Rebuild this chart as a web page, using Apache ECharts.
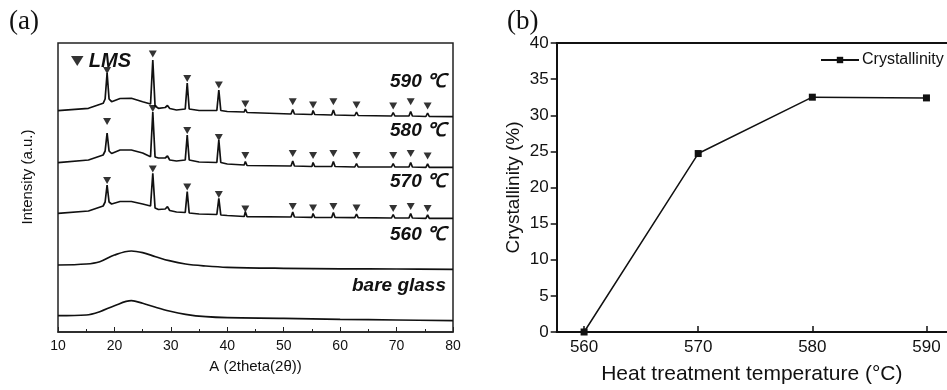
<!DOCTYPE html>
<html>
<head>
<meta charset="utf-8">
<script src="https://cdn.jsdelivr.net/npm/echarts@6/dist/echarts.min.js"></script>
<style>
  html, body { margin: 0; padding: 0; background: #fff; }
  #chart { width: 947px; height: 390px; }
</style>
</head>
<body>
<div id="chart"></div>
<script>
// (a) XRD patterns, [2theta, intensity a.u.]
const xrd590 = [[10,221.3],[15.4,223.7],[18,228.7],[18.35,233],[18.7,259],[19.05,233],[19.5,230.3],[21,233.5],[23,233.7],[25,230.3],[26.4,228],[26.8,272],[27.2,226],[27.8,223.7],[29,224.5],[29.4,226.5],[29.8,223.5],[31,222],[32.55,223],[32.9,249],[33.25,223],[35,221.5],[38.15,221.5],[38.5,242],[38.85,221.5],[40,220.5],[43,220],[43.2,223],[43.5,219.5],[51.3,218],[51.6,222.5],[51.9,218],[55,217.5],[55.2,221.5],[55.5,217.5],[58.5,217],[58.8,222],[59.1,217],[62.6,216.5],[62.9,220],[63.2,216.5],[69.1,216],[69.4,219.5],[69.7,216],[72.2,216],[72.5,220.5],[72.8,216],[75.2,215.5],[75.5,219],[75.8,215.5],[80,215.3]];
const xrd580 = [[10,169.3],[15.4,172],[18,177],[18.35,181],[18.7,199],[19.05,181],[19.5,178.5],[21,182],[23,182],[25,179],[26.4,175.3],[26.8,220],[27.2,175],[27.8,174],[29,174],[29.4,176],[29.8,172],[31,171],[32.55,172],[32.9,197],[33.25,172],[35,170],[38.15,169.5],[38.5,192],[38.85,169.5],[40,168],[43,167],[43.2,170.5],[43.5,166.5],[51.3,166],[51.6,171],[51.9,166],[55,165.5],[55.2,169.5],[55.5,165.5],[58.5,165.5],[58.8,170.5],[59.1,165.5],[62.6,165],[62.9,168.5],[63.2,165],[69.1,165],[69.4,168.5],[69.7,165],[72.2,165],[72.5,169.5],[72.8,165],[75.2,164.7],[75.5,168],[75.8,164.7],[80,164.7]];
const xrd570 = [[10,118.7],[15.4,121],[18,126],[18.35,130],[18.7,147],[19.05,130],[19.5,128],[21,130.5],[23,130.5],[25,128],[26.4,126],[26.8,158.7],[27.2,124],[27.8,122.5],[29,123],[29.4,125.3],[29.8,121.5],[31,120],[32.55,119.5],[32.9,140.3],[33.25,119],[35,118],[38.15,117.5],[38.5,133.7],[38.85,117],[40,116.5],[43,115.5],[43.2,120.3],[43.5,115.3],[51.3,115],[51.6,120],[51.9,115],[55,114.7],[55.2,118.5],[55.5,114.7],[58.5,114.5],[58.8,119.5],[59.1,114.5],[62.6,114.3],[62.9,118],[63.2,114.3],[69.1,114],[69.4,117.5],[69.7,114],[72.2,114],[72.5,118.5],[72.8,114],[75.2,113.7],[75.5,117],[75.8,113.7],[80,113.7]];
const xrd560 = [[10,67],[15,68],[17.4,70.3],[20,77],[23,81],[25,79.3],[27.3,75.3],[29.7,71.3],[32.6,68],[36.2,66],[40,64.7],[50,63.7],[60,63.2],[70,63],[80,62.7]];
const xrdBare = [[10,16.3],[15,17],[17.4,20.3],[20,26.3],[23,31.3],[25,28.7],[27.3,24.7],[29.7,21],[32.6,17.7],[36.2,15.3],[40,14.3],[50,13.7],[60,12.7],[70,12],[80,11.3]];

// LMS peak markers
const lms590 = [[18.7,261.5],[26.8,278],[32.9,253.5],[38.5,247],[43.2,228],[51.6,230.3],[55.2,227],[58.8,230.3],[62.9,227],[69.4,226],[72.5,230.3],[75.5,226]];
const lms580 = [[18.7,210.5],[26.8,223.5],[32.9,201.5],[38.5,194.5],[43.2,176.5],[51.6,178.5],[55.2,176.5],[58.8,178.5],[62.9,176.5],[69.4,176.5],[72.5,178.5],[75.5,176]];
const lms570 = [[18.7,151.5],[26.8,163],[32.9,145],[38.5,137.5],[43.2,123],[51.6,125.5],[55.2,124],[58.8,125.5],[62.9,124],[69.4,123.5],[72.5,125.5],[75.5,123.5]];

// (b) crystallinity
const temps = [560, 570, 580, 590];
const crystallinity = [0, 24.7, 32.5, 32.4];

const sans = 'Liberation Sans, Arial, Helvetica, sans-serif';
const ink = '#111';

const chart = echarts.init(document.getElementById('chart'));

const xrdLine = (name, data, smooth) => ({
  name, type: 'line', xAxisIndex: 0, yAxisIndex: 0,
  data, smooth: smooth ? 0.35 : false, symbol: 'none',
  lineStyle: { color: ink, width: 1.7 }, silent: true, z: 3
});
const lmsMarks = (data) => ({
  name: 'LMS', type: 'scatter', xAxisIndex: 0, yAxisIndex: 0,
  data, symbol: 'triangle', symbolRotate: 180, symbolSize: [8, 7],
  itemStyle: { color: '#000' }, silent: true, z: 4
});

const tempLabel = (text, y) => ({
  type: 'text', right: 947 - 446, top: y,
  style: { text, font: 'italic bold 19px ' + sans, fill: ink }
});

chart.setOption({
  animation: false,
  backgroundColor: '#fff',
  grid: [
    { left: 58, right: 494, top: 43, bottom: 58, show: true, borderColor: '#222', borderWidth: 1.5 },
    { left: 556.7, right: 0, top: 43, bottom: 55.7 }
  ],
  legend: [
    {
      data: ['LMS'], left: 66, top: 46, itemWidth: 13, itemHeight: 10,
      icon: 'path://M0,0 L10,0 L5,8 Z',
      textStyle: { fontFamily: sans, fontSize: 20, fontWeight: 'bold', fontStyle: 'italic', color: ink }
    },
    {
      data: ['Crystallinity'], left: 815, top: 47, itemWidth: 38, itemHeight: 8,
      textStyle: { fontFamily: sans, fontSize: 16, color: ink, padding: [0, 0, 0, -2] }
    }
  ],
  xAxis: [
    {
      gridIndex: 0, type: 'value', min: 10, max: 80, interval: 10,
      name: 'A (2theta(2θ))', nameLocation: 'middle', nameGap: 27,
      nameTextStyle: { fontFamily: sans, fontSize: 15, color: ink },
      axisLine: { lineStyle: { color: '#222', width: 1.5 } },
      axisTick: { inside: true, length: 5, lineStyle: { color: '#222' } },
      minorTick: { show: true, splitNumber: 2, length: 3, lineStyle: { color: '#222' } },
      axisLabel: { fontFamily: sans, fontSize: 14, color: ink, margin: 7 },
      splitLine: { show: false }
    },
    {
      gridIndex: 1, type: 'value', min: 557.6, max: 591.8,
      name: 'Heat treatment temperature (°C)', nameLocation: 'middle', nameGap: 32,
      nameTextStyle: { fontFamily: sans, fontSize: 21, color: ink },
      axisLine: { lineStyle: { color: ink, width: 2 } },
      axisTick: { inside: true, length: 6, customValues: temps, lineStyle: { color: ink, width: 1.5 } },
      axisLabel: { customValues: temps, fontFamily: sans, fontSize: 17, color: ink, margin: 7 },
      splitLine: { show: false }
    },
    {
      gridIndex: 1, type: 'value', position: 'top', min: 557.6, max: 591.8,
      axisLine: { show: true, lineStyle: { color: ink, width: 2 } },
      axisTick: { show: false }, axisLabel: { show: false }, splitLine: { show: false }
    }
  ],
  yAxis: [
    {
      gridIndex: 0, type: 'value', min: 0, max: 289,
      axisLine: { show: false }, axisTick: { show: false },
      axisLabel: { show: false }, splitLine: { show: false }
    },
    {
      gridIndex: 1, type: 'value', min: 0, max: 40, interval: 5,
      name: 'Crystallinity (%)', nameLocation: 'middle', nameGap: 33,
      nameTextStyle: { fontFamily: sans, fontSize: 19, color: ink },
      axisLine: { show: true, lineStyle: { color: ink, width: 2 } },
      axisTick: { show: true, inside: false, length: 6, lineStyle: { color: ink, width: 1.5 } },
      axisLabel: { fontFamily: sans, fontSize: 17, color: ink, margin: 8 },
      splitLine: { show: false }
    }
  ],
  series: [
    xrdLine('590', xrd590, false),
    xrdLine('580', xrd580, false),
    xrdLine('570', xrd570, false),
    xrdLine('560', xrd560, true),
    xrdLine('bare glass', xrdBare, true),
    lmsMarks(lms590),
    lmsMarks(lms580),
    lmsMarks(lms570),
    {
      name: 'Crystallinity', type: 'line', xAxisIndex: 1, yAxisIndex: 1,
      data: temps.map((t, i) => [t, crystallinity[i]]),
      symbol: 'rect', symbolSize: 7,
      lineStyle: { color: ink, width: 1.5 }, itemStyle: { color: ink }, z: 5
    }
  ],
  graphic: [
    { type: 'text', left: 9, top: 8, style: { text: '(a)', font: '27px Liberation Serif, Times New Roman, serif', fill: ink } },
    { type: 'text', left: 507, top: 8, style: { text: '(b)', font: '27px Liberation Serif, Times New Roman, serif', fill: ink } },
    {
      type: 'text', x: 28, y: 177, rotation: Math.PI / 2,
      style: { text: 'Intensity (a.u.)', font: '15px ' + sans, fill: ink, align: 'center', verticalAlign: 'middle' }
    },
    tempLabel('590 ℃', 72),
    tempLabel('580 ℃', 121),
    tempLabel('570 ℃', 172),
    tempLabel('560 ℃', 225),
    tempLabel('bare glass', 276)
  ]
});
</script>
</body>
</html>
